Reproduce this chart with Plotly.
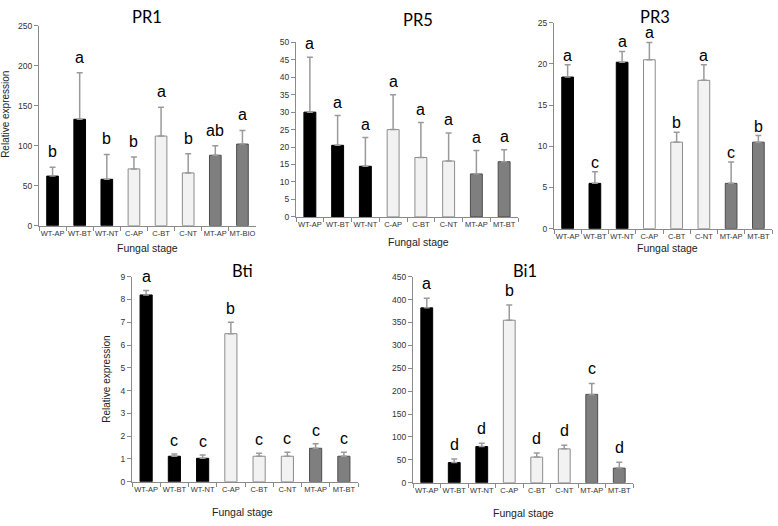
import plotly.graph_objects as go

W, H = 778, 526

cats8 = ["WT-AP", "WT-BT", "WT-NT", "C-AP", "C-BT", "C-NT", "MT-AP", "MT-BT"]
cats_pr1 = ["WT-AP", "WT-BT", "WT-NT", "C-AP", "C-BT", "C-NT", "MT-AP", "MT-BIO"]

pr1_vals = [62, 133, 58, 71, 112, 66, 88, 102]
pr1_err = [11, 58, 31, 15, 36, 24, 12, 17]
pr1_letters = ["b", "a", "b", "b", "a", "b", "ab", "a"]

pr5_vals = [30, 20.5, 14.5, 25, 17, 16, 12.3, 15.8]
pr5_err = [15.7, 8.5, 8.2, 10, 10, 8, 6.7, 3.4]
pr5_letters = ["a", "a", "a", "a", "a", "a", "a", "a"]

pr3_vals = [18.4, 5.5, 20.2, 20.5, 10.5, 18.0, 5.5, 10.5]
pr3_err = [1.5, 1.4, 1.3, 2.1, 1.2, 1.9, 2.6, 0.8]
pr3_letters = ["a", "c", "a", "a", "b", "a", "c", "b"]

bti_vals = [8.2, 1.12, 1.03, 6.5, 1.12, 1.12, 1.47, 1.12]
bti_err = [0.2, 0.1, 0.14, 0.5, 0.13, 0.18, 0.2, 0.18]
bti_letters = ["a", "c", "c", "b", "c", "c", "c", "c"]

bi1_vals = [382, 44, 79, 355, 56, 74, 193, 32]
bi1_err = [21, 8, 7, 33, 9, 8, 24, 13]
bi1_letters = ["a", "d", "d", "b", "d", "d", "c", "d"]

BLACK, LIGHT, WHITE, MID = "#000000", "#f2f2f2", "#ffffff", "#7f7f7f"
fills_std = [BLACK, BLACK, BLACK, LIGHT, LIGHT, LIGHT, MID, MID]
fills_pr3 = [BLACK, BLACK, BLACK, WHITE, LIGHT, LIGHT, MID, MID]
lines_std = ["#000000"] * 3 + ["#8c8c8c"] * 3 + ["#4d4d4d"] * 2

# title pos: (x px, top px of annotation box)
panels = [
    ("PR1", cats_pr1, pr1_vals, pr1_err, pr1_letters, fills_std, 250, 50,
     39, 256, 21, 225, (147, 0), (147, 248), (6, 112), 5),
    ("PR5", cats8, pr5_vals, pr5_err, pr5_letters, fills_std, 50, 5,
     296, 518, 38, 216, (418, 3), (418, 242), None, 3),
    ("PR3", cats8, pr3_vals, pr3_err, pr3_letters, fills_pr3, 25, 5,
     554, 772, 18, 228, (655, 0), (667, 248), None, -1),
    ("Bti", cats8, bti_vals, bti_err, bti_letters, fills_std, 9, 1,
     132, 358, 277, 486, (242, 259), (242, 517), (107, 382), 3),
    ("Bi1", cats8, bi1_vals, bi1_err, bi1_letters, fills_std, 450, 50,
     413, 633, 277, 487, (525, 259), (523, 518), None, 4),
]

fig = go.Figure()
annotations = []
layout_axes = {}

ARIAL = "Liberation Sans, Arial"

for i, (name, cats, vals, err, letters, fills, ymax, dtick, x0, x1, yt, yb,
        tpos, xlpos, ylpos, lshift) in enumerate(panels):
    n = i + 1
    xa = "x" if n == 1 else f"x{n}"
    ya = "y" if n == 1 else f"y{n}"
    fig.add_trace(go.Bar(
        x=cats, y=vals, xaxis=xa, yaxis=ya,
        marker=dict(color=fills, line=dict(color=lines_std, width=1)),
        error_y=dict(type="data", array=err, arrayminus=[0] * len(err),
                     symmetric=False, color="#9a9a9a", thickness=1.5, width=3),
        showlegend=False, hoverinfo="x+y",
    ))
    xkey = "xaxis" if n == 1 else f"xaxis{n}"
    ykey = "yaxis" if n == 1 else f"yaxis{n}"
    layout_axes[xkey] = dict(
        domain=[x0 / W, x1 / W], anchor=ya, type="category",
        showline=True, linecolor="#8a8a8a", linewidth=1,
        ticks="outside", ticklen=4, tickcolor="#8a8a8a", tickson="boundaries",
        tickfont=dict(family=ARIAL, size=7.5, color="#333"),
        showgrid=False, zeroline=False, tickangle=0,
    )
    layout_axes[ykey] = dict(
        domain=[1 - yb / H, 1 - yt / H], anchor=xa, range=[0, ymax],
        dtick=dtick, showline=True, linecolor="#8a8a8a", linewidth=1,
        ticks="outside", ticklen=4, tickcolor="#8a8a8a",
        tickfont=dict(family=ARIAL, size=8.5, color="#333"),
        showgrid=False, zeroline=False,
    )
    for c, v, e, L in zip(cats, vals, err, letters):
        annotations.append(dict(
            x=c, y=v + e, xref=xa, yref=ya, text=L, showarrow=False,
            yanchor="bottom", yshift=lshift,
            font=dict(family=ARIAL, size=16, color="#000"),
        ))
    annotations.append(dict(
        x=tpos[0] / W, y=1 - tpos[1] / H, xref="paper", yref="paper",
        text=name, showarrow=False, xanchor="center", yanchor="top",
        font=dict(family="Lato, Open Sans", size=16.5, color="#000"),
    ))
    annotations.append(dict(
        x=xlpos[0] / W, y=1 - xlpos[1] / H, xref="paper", yref="paper",
        text="Fungal stage", showarrow=False, xanchor="center", yanchor="middle",
        font=dict(family=ARIAL, size=10.5, color="#222"),
    ))
    if ylpos is not None:
        annotations.append(dict(
            x=ylpos[0] / W, y=1 - ylpos[1] / H, xref="paper", yref="paper",
            text="Relative expression", showarrow=False, textangle=-90,
            xanchor="center", yanchor="middle",
            font=dict(family=ARIAL, size=10, color="#222"),
        ))

fig.update_layout(
    width=W, height=H, margin=dict(l=0, r=0, t=0, b=0),
    paper_bgcolor="white", plot_bgcolor="white",
    bargap=0.57, annotations=annotations, **layout_axes,
)

fig.write_html("out.html", config={"displayModeBar": False},
               post_script="document.body.style.margin='0';document.body.style.overflow='hidden';")
